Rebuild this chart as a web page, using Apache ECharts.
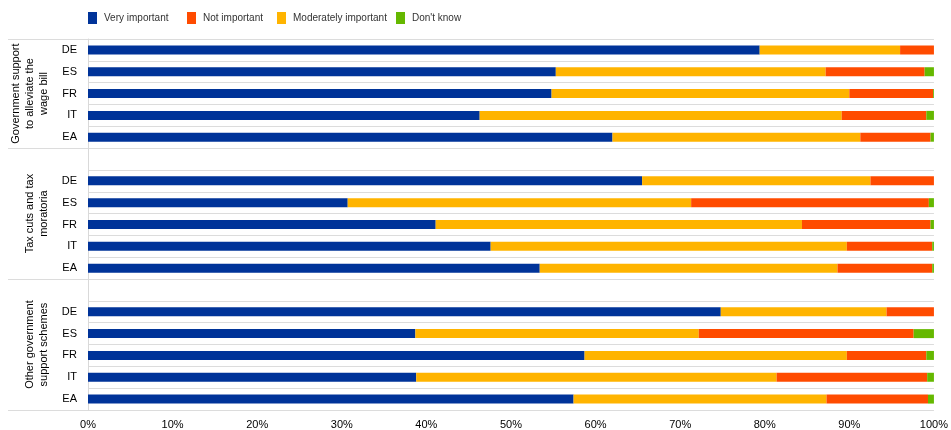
<!DOCTYPE html>
<html><head><meta charset="utf-8">
<script src="https://cdn.jsdelivr.net/npm/echarts@6/dist/echarts.min.js"></script>
<style>html,body{margin:0;padding:0;background:#fff}#c{width:951px;height:430px}</style>
</head><body><div id="c"></div>
<script>
// ---- data ----
const countries = ['DE', 'ES', 'FR', 'IT', 'EA'];
const groupLabels = [
  'Government support\nto alleviate the\nwage bill',
  'Tax cuts and tax\nmoratoria',
  'Other government\nsupport schemes'
];
const seriesNames = ['Very important', 'Not important', 'Moderately important', "Don't know"];
// per group, values for DE, ES, FR, IT, EA (percent)
const veryImportant = [
  [79.4, 55.3, 54.8, 46.3, 62.0],
  [65.5, 30.7, 41.1, 47.6, 53.4],
  [74.8, 38.7, 58.7, 38.8, 57.4]
];
const moderatelyImportant = [
  [16.6, 31.9, 35.2, 42.8, 29.3],
  [27.0, 40.6, 43.3, 42.1, 35.2],
  [19.6, 33.5, 31.0, 42.6, 29.9]
];
const notImportant = [
  [4.0, 11.7, 9.9, 10.0, 8.3],
  [7.5, 28.1, 15.2, 10.1, 11.2],
  [5.6, 25.4, 9.4, 17.8, 12.0]
];
const dontKnow = [
  [0.0, 1.1, 0.1, 0.9, 0.4],
  [0.0, 0.6, 0.4, 0.2, 0.2],
  [0.0, 2.4, 0.9, 0.8, 0.7]
];
const xTickLabels = ['0%','10%','20%','30%','40%','50%','60%','70%','80%','90%','100%'];

// ---- build ----
const FONT = '"Liberation Sans", Arial, sans-serif';
const colors = {
  'Very important': '#003399',
  'Not important': '#FF4B00',
  'Moderately important': '#FFB400',
  "Don't know": '#65B800'
};
const categories = [];
const groupRanges = [];
groupLabels.forEach((g, i) => {
  const start = categories.length;
  if (i > 0) categories.push('');
  countries.forEach(c => categories.push(c));
  groupRanges.push([start, categories.length - 1]);
});
function flat(groups) {
  const out = [];
  groups.forEach((g, i) => { if (i > 0) out.push(null); g.forEach(v => out.push(v)); });
  return out;
}
const stackOrder = [
  ['Very important', veryImportant],
  ['Moderately important', moderatelyImportant],
  ['Not important', notImportant],
  ["Don't know", dontKnow]
];
const legendLefts = [88, 187, 277, 396];

const chart = echarts.init(document.getElementById('c'), null, {renderer: 'canvas'});
const option = {
  animation: false,
  backgroundColor: '#fff',
  textStyle: {fontFamily: FONT},
  legend: seriesNames.map((n, i) => ({
    data: [n], left: legendLefts[i], top: 12, icon: 'rect',
    itemWidth: 9, itemHeight: 12, itemGap: 0, padding: 0,
    selectedMode: false,
    textStyle: {fontSize: 10, color: '#333', fontFamily: FONT, padding: [0, 0, 0, 2]}
  })),
  grid: {left: 88, right: 14, top: 39, bottom: 20, containLabel: false},
  xAxis: {
    type: 'value', min: 0, max: 100, interval: 10,
    axisLine: {show: false}, axisTick: {show: false}, splitLine: {show: false},
    axisLabel: {fontSize: 11, color: '#000', fontFamily: FONT, margin: 9,
      formatter: v => xTickLabels[Math.round(v / 10)]}
  },
  yAxis: {
    type: 'category', inverse: true, data: categories,
    axisLine: {show: true, lineStyle: {color: '#d9d9d9'}},
    axisTick: {show: false},
    splitLine: {show: true, lineStyle: {color: '#dcdcdc', width: 1}},
    axisLabel: {fontSize: 11, color: '#000', fontFamily: FONT, margin: 11}
  },
  series: stackOrder.map(([name, arr]) => ({
    name, type: 'bar', stack: 'total', barWidth: 9,
    itemStyle: {color: colors[name]},
    data: flat(arr)
  }))
};
chart.setOption(option);

// group labels and separators, positioned from the category axis
const c0 = chart.convertToPixel({yAxisIndex: 0}, 0);
const c1 = chart.convertToPixel({yAxisIndex: 0}, 1);
const bw = c1 - c0;
const gridLeft = 88;
const graphics = [];
const sepYs = [c0 - bw / 2];
groupRanges.forEach(([s, e], i) => {
  const top = chart.convertToPixel({yAxisIndex: 0}, s) - bw / 2;
  const bot = chart.convertToPixel({yAxisIndex: 0}, e) + bw / 2;
  sepYs.push(bot);
  graphics.push({
    type: 'text', x: 51, y: (top + bot) / 2, rotation: Math.PI / 2,
    style: {text: groupLabels[i], x: 0, y: 0, fill: '#000',
      font: '11px ' + FONT, lineHeight: 14,
      align: 'center', verticalAlign: 'bottom',
      textAlign: 'center', textVerticalAlign: 'bottom'}
  });
});
sepYs.forEach(y => {
  const yy = Math.round(y) + 0.5;
  graphics.push({type: 'line', shape: {x1: 8, y1: yy, x2: gridLeft, y2: yy},
    style: {stroke: '#dcdcdc', lineWidth: 1}});
});
chart.setOption({graphic: graphics});
</script>
</body></html>
